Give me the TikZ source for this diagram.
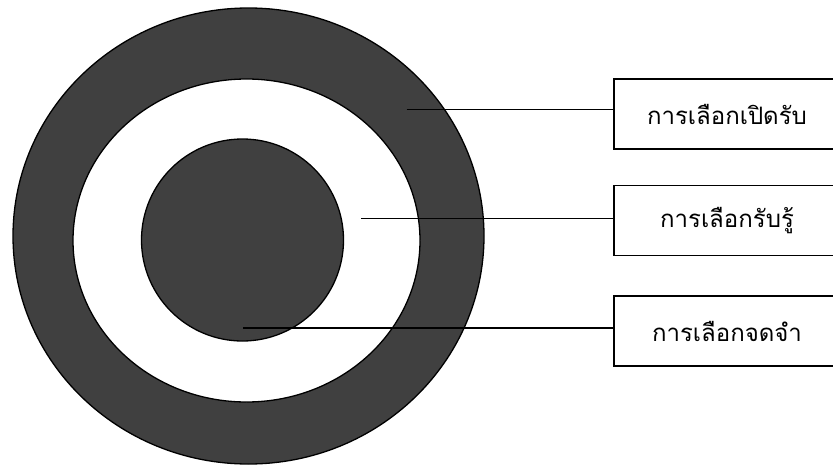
\documentclass[tikz,border=0pt]{standalone}
\usepackage{fontspec}
\newfontfamily\thaifont[Script=Thai]{Loma}
\usetikzlibrary{positioning}
\definecolor{ringgray}{HTML}{404040}

\begin{document}
\begin{tikzpicture}[x=1pt, y=-1pt,
  labelbox/.style={draw, line width=1.6pt, minimum width=226pt, minimum height=70pt,
    inner sep=0pt, font=\thaifont\fontsize{24}{28}\selectfont},
  ring/.style={draw=black, line width=1.3pt}]

  \useasboundingbox (0,0) rectangle (833,466);

  % --- 1. วงกลมซ้อน ---
  \filldraw[ring, fill=ringgray] (248.5,236) ellipse (235.5 and 228);
  \filldraw[ring, fill=white] (246.5,240.5) ellipse (173.5 and 161.5);
  \filldraw[ring, fill=ringgray] (242.5,240) circle (101);

  % --- 2. กล่องข้อความ ---
  \node[labelbox] (expo) at (727,114) {การเลือกเปิดรับ};
  \node[labelbox, below=35pt of expo] (perc) {การเลือกรับรู้};
  \node[labelbox, below=39pt of perc] (reten) {การเลือกจดจำ};

  % --- 3. เส้นชี้ ---
  \coordinate (pexpo) at (406.5,109.5);
  \coordinate (pperc) at (361,218.5);
  \coordinate (preten) at (243,328);
  \draw[line width=1.4pt] (pexpo) -- (pexpo -| expo.west);
  \draw[line width=1.4pt] (pperc) -- (pperc -| perc.west);
  \draw[line width=1.4pt] (preten) -- (preten -| reten.west);

\end{tikzpicture}
\end{document}
